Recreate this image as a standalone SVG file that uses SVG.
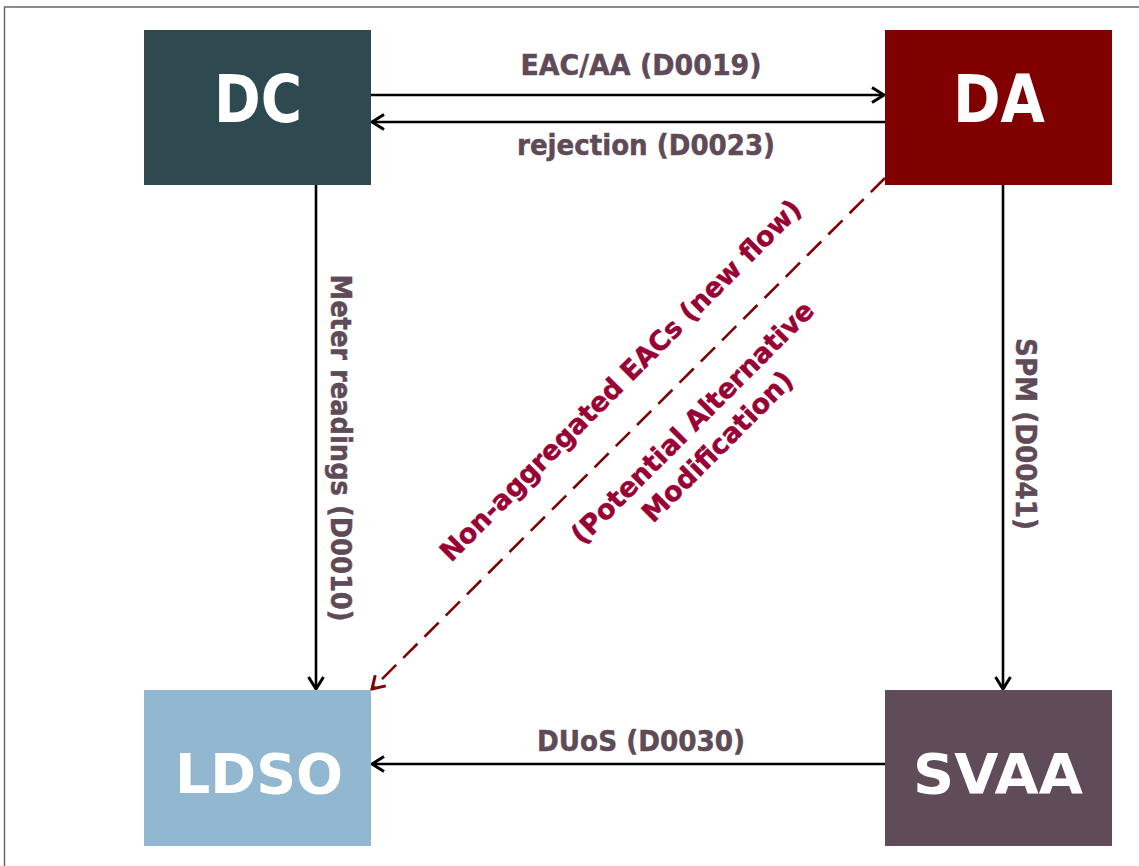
<svg xmlns="http://www.w3.org/2000/svg" width="1139" height="866" viewBox="0 0 1139 866">
  <defs>
    <style>
      .node-label { font-family: "DejaVu Sans", "Liberation Sans", sans-serif; font-weight: bold; fill: #ffffff; text-anchor: middle; }
      .edge-label { font-family: "DejaVu Sans", "Liberation Sans", sans-serif; font-weight: bold; font-size: 28px; fill: #5F4B57; text-anchor: middle; stroke: #5F4B57; stroke-width: 0.5; }
      .diag-label { font-family: "DejaVu Sans", "Liberation Sans", sans-serif; font-weight: bold; font-size: 27px; fill: #990033; text-anchor: middle; stroke: #990033; stroke-width: 0.5; }
      .conn { fill: none; stroke: #000000; stroke-width: 2.6; }
      .conn-dash { fill: none; stroke: #800000; stroke-width: 2.6; stroke-dasharray: 20 10; }
    </style>
    <marker id="arrow" markerUnits="userSpaceOnUse" viewBox="-15 -10 17 20" markerWidth="17" markerHeight="20" refX="0" refY="0" orient="auto">
      <path d="M-12,-7.5 L0,0 L-12,7.5" fill="none" stroke="#000000" stroke-width="3"/>
    </marker>
    <marker id="arrow-red" markerUnits="userSpaceOnUse" viewBox="-15 -10 17 20" markerWidth="17" markerHeight="20" refX="0" refY="0" orient="auto">
      <path d="M-12,-7.5 L0,0 L-12,7.5" fill="none" stroke="#800000" stroke-width="3"/>
    </marker>
  </defs>

  <rect x="0" y="0" width="1139" height="866" fill="#ffffff"/>
  <path d="M4.5,866 V7 H1139" fill="none" stroke="#6F6270" stroke-width="1.5"/>

  <g id="connectors">
    <line class="conn" x1="371" y1="95" x2="884" y2="95" marker-end="url(#arrow)"/>
    <line class="conn" x1="885" y1="122" x2="372" y2="122" marker-end="url(#arrow)"/>
    <line class="conn" x1="316" y1="185" x2="316" y2="689" marker-end="url(#arrow)"/>
    <line class="conn" x1="1003" y1="185" x2="1003" y2="689" marker-end="url(#arrow)"/>
    <line class="conn" x1="885" y1="764" x2="372" y2="764" marker-end="url(#arrow)"/>
    <line class="conn-dash" x1="885" y1="178" x2="372" y2="689" marker-end="url(#arrow-red)"/>

    <text class="edge-label" x="641" y="75" textLength="241" lengthAdjust="spacingAndGlyphs">EAC/AA (D0019)</text>
    <text class="edge-label" x="646" y="155" textLength="258" lengthAdjust="spacingAndGlyphs">rejection (D0023)</text>
    <text class="edge-label" x="641" y="751" textLength="208" lengthAdjust="spacingAndGlyphs">DUoS (D0030)</text>
    <text class="edge-label" transform="translate(331,448) rotate(90)" textLength="347" lengthAdjust="spacingAndGlyphs">Meter readings (D0010)</text>
    <text class="edge-label" transform="translate(1016,434) rotate(90)" textLength="192" lengthAdjust="spacingAndGlyphs">SPM (D0041)</text>
    <text class="diag-label" transform="translate(627,387) rotate(-45)" textLength="498" lengthAdjust="spacingAndGlyphs">Non-aggregated EACs (new flow)</text>
    <text class="diag-label" transform="translate(699,429) rotate(-45)">(Potential Alternative</text>
    <text class="diag-label" transform="translate(724,453) rotate(-45)">Modification)</text>
  </g>

  <g id="node-dc">
    <rect x="144" y="30" width="227" height="155" fill="#2E4A50"/>
    <text class="node-label" x="258" y="122" font-size="65" textLength="88" lengthAdjust="spacingAndGlyphs">DC</text>
  </g>
  <g id="node-da">
    <rect x="885" y="30" width="227" height="155" fill="#800000"/>
    <text class="node-label" x="999" y="122" font-size="65" textLength="92" lengthAdjust="spacingAndGlyphs">DA</text>
  </g>
  <g id="node-ldso">
    <rect x="144" y="690" width="227" height="156" fill="#92B7D0"/>
    <text class="node-label" x="259" y="793" font-size="56" textLength="168" lengthAdjust="spacingAndGlyphs">LDSO</text>
  </g>
  <g id="node-svaa">
    <rect x="885" y="690" width="227" height="156" fill="#5F4C58"/>
    <text class="node-label" x="998" y="793" font-size="56" textLength="170" lengthAdjust="spacingAndGlyphs">SVAA</text>
  </g>
</svg>
